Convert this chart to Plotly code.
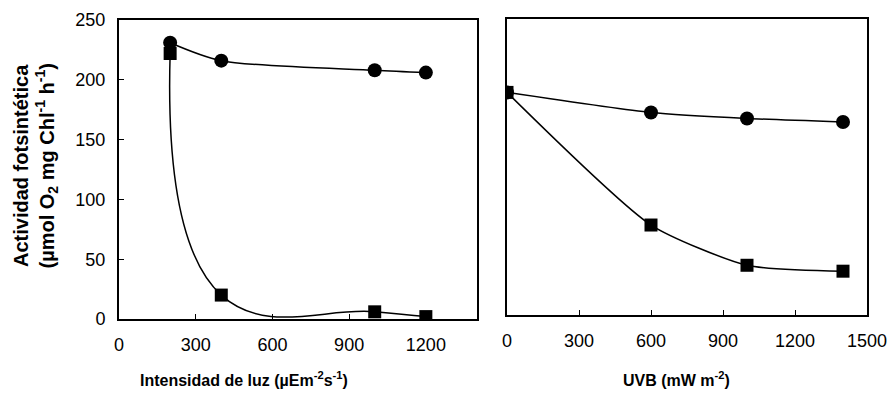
import plotly.graph_objects as go

# Left panel: light intensity
light_x = [200, 400, 1000, 1200]
light_circle = [231, 216, 208, 206]
light_square = [222, 20, 6, 2]

# Right panel: UVB
uvb_x = [0, 600, 1000, 1400]
uvb_circle = [188, 171, 166, 163]
uvb_square = [188, 76, 42, 37]

W, H = 891, 403
FONT = "Liberation Sans, Arial, sans-serif"

fig = go.Figure()

def add_series(x, y, sym, size, xa, ya, smooth):
    fig.add_trace(go.Scatter(
        x=x, y=y, mode="lines+markers",
        line=dict(color="black", width=1.5, shape="spline", smoothing=smooth),
        marker=dict(symbol=sym, size=size, color="black"),
        xaxis=xa, yaxis=ya, showlegend=False))

add_series(light_x, light_circle, "circle", 14, "x", "y", 0.8)
add_series(light_x, light_square, "square", 13, "x", "y", 1.3)
add_series(uvb_x, uvb_circle, "circle", 14, "x2", "y2", 0.6)
add_series(uvb_x, uvb_square, "square", 13, "x2", "y2", 0.6)

def px(v):
    return v / W

def py(v):
    return 1 - v / H

common = dict(showgrid=False, zeroline=False, showline=True, linecolor="black",
              linewidth=2, mirror=True, ticks="inside", ticklen=5, tickwidth=1,
              automargin=False,
              tickcolor="black", tickfont=dict(family=FONT, size=18, color="black"))

fig.update_layout(
    template="none",
    width=W, height=H,
    margin=dict(l=0, r=0, t=0, b=0, pad=0),
    paper_bgcolor="white", plot_bgcolor="white",
    font=dict(family=FONT, color="black"),
    xaxis=dict(domain=[px(119), px(477)], range=[0, 1400], tickvals=[0, 300, 600, 900, 1200],
               anchor="y", ticklabelstandoff=8, **common),
    yaxis=dict(domain=[py(319), py(20)], range=[0, 250], tickvals=[0, 50, 100, 150, 200, 250],
               anchor="x", ticklabelstandoff=8, **common),
    xaxis2=dict(domain=[px(507), px(867)], range=[0, 1500], tickvals=[0, 300, 600, 900, 1200, 1500],
                anchor="y2", ticklabelstandoff=8, **common),
    yaxis2=dict(domain=[py(315), py(19)], range=[0, 250], anchor="x2",
                **{**common, "ticks": "", "showticklabels": False}),
)

fig.add_annotation(
    text="<b>Actividad fotsintética</b><br><b>(µmol O<sub>2</sub> mg Chl<sup>-1</sup> h<sup>-1</sup>)</b>",
    xref="paper", yref="paper", x=px(34.5), y=py(166), textangle=-90,
    xanchor="center", yanchor="middle", showarrow=False,
    font=dict(family=FONT, size=20, color="black"))

fig.add_annotation(
    text="<b>Intensidad de luz (µEm<sup>-2</sup>s<sup>-1</sup>)</b>",
    xref="paper", yref="paper", x=px(244), y=py(379),
    xanchor="center", yanchor="middle", showarrow=False,
    font=dict(family=FONT, size=16, color="black"))

fig.add_annotation(
    text="<b>UVB (mW m<sup>-2</sup>)</b>",
    xref="paper", yref="paper", x=px(676), y=py(379),
    xanchor="center", yanchor="middle", showarrow=False,
    font=dict(family=FONT, size=16, color="black"))

fig.write_html("out.html", config={"displayModeBar": False},
               post_script="document.body.style.margin='0';document.body.style.overflow='hidden';")
